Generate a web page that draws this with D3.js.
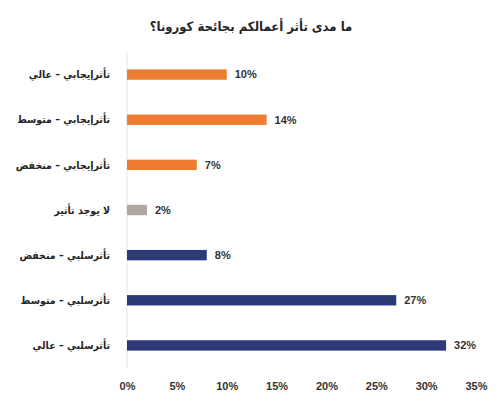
<!DOCTYPE html>
<html><head><meta charset="utf-8">
<script src="https://cdn.jsdelivr.net/npm/d3@7"></script>
<style>body{margin:0;background:#fff}svg{display:block}</style>
</head><body>
<svg id="c" width="502" height="409"></svg>
<script>
const title = "ما مدى تأثر أعمالكم بجائحة كورونا؟";
const categories = ["تأثرإيجابي – عالي","تأثرإيجابي – متوسط","تأثرإيجابي – منخفض","لا يوجد تأثير","تأثرسلبي – منخفض","تأثرسلبي – متوسط","تأثرسلبي – عالي"];
const values = [10,14,7,2,8,27,32];
const groups = ["pos","pos","pos","none","neg","neg","neg"];
const tickValues = [0,5,10,15,20,25,30,35];
const colors = {pos:"#ED7D31", none:"#B1A7A2", neg:"#2E3A78"};

const svg = d3.select("#c");
const x = d3.scaleLinear().domain([0,35]).range([127,476]);
const y = d3.scaleBand().domain(categories).range([52,368]).paddingInner(0.77).paddingOuter(0.385);

svg.append("text").attr("x",251).attr("y",31).attr("text-anchor","middle")
  .attr("font-family","DejaVu Sans Condensed, DejaVu Sans").attr("font-weight","bold").attr("font-size",13)
  .attr("fill","#262626").attr("direction","rtl").text(title);

svg.append("line").attr("x1",x(0)).attr("x2",x(0)).attr("y1",52).attr("y2",368)
  .attr("stroke","#ece4e4").attr("stroke-width",1);

svg.selectAll("rect.bar").data(values).join("rect").attr("class","bar")
  .attr("x",x(0)).attr("y",(d,i)=>y(categories[i]))
  .attr("width",d=>x(d)-x(0)).attr("height",y.bandwidth())
  .attr("fill",(d,i)=>colors[groups[i]]);

svg.selectAll("text.val").data(values).join("text").attr("class","val")
  .attr("x",d=>x(d)+8).attr("y",(d,i)=>y(categories[i])+y.bandwidth()/2)
  .attr("dy","0.35em").attr("font-family","Liberation Sans").attr("font-weight","bold")
  .attr("font-size",11).attr("fill","#333").text(d=>d+"%");

svg.selectAll("text.cat").data(categories).join("text").attr("class","cat")
  .attr("x",110).attr("y",d=>y(d)+y.bandwidth()/2).attr("dy","0.35em")
  .attr("text-anchor","end").attr("font-family","DejaVu Sans Condensed, DejaVu Sans").attr("font-weight","bold")
  .attr("font-size",10.5).attr("fill","#262626").text(d=>d);

const ax = svg.append("g").attr("transform","translate(0,386)")
  .call(d3.axisBottom(x).tickValues(tickValues).tickFormat(d=>d+"%").tickSize(0));
ax.select(".domain").remove();
ax.selectAll("text").attr("font-family","Liberation Sans").attr("font-weight","bold")
  .attr("font-size",11).attr("fill","#333").attr("dy","0.35em").attr("y",0);
</script>
</body></html>
